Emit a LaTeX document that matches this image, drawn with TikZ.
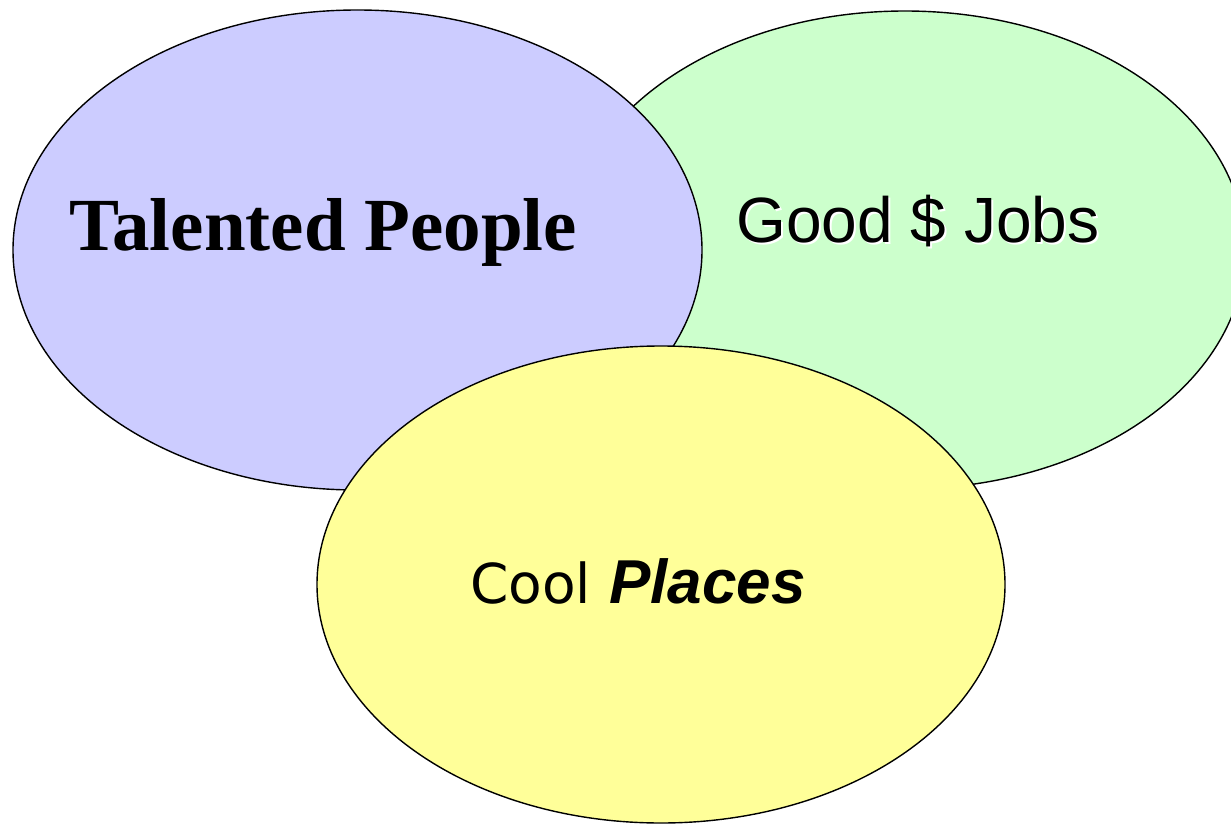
\documentclass[tikz,border=0pt]{standalone}
\usepackage{fontspec}
\setmainfont{Liberation Serif}
\newfontfamily\arialfont{Liberation Sans}
\newfontfamily\casualfont{DejaVu Sans}
\usetikzlibrary{shapes.geometric}
\definecolor{talentblue}{HTML}{CCCCFF}
\definecolor{jobgreen}{HTML}{CCFFCC}
\definecolor{placeyellow}{HTML}{FFFF99}
\tikzset{
  circle set/.style={draw=black, line width=1.4pt, ellipse, inner sep=0pt},
  label text/.style={anchor=base, inner sep=0pt, text=black},
}
\begin{document}
\begin{tikzpicture}[x=1pt, y=-1pt]
  \useasboundingbox (0,0) rectangle (1231,824);
  % the three overlapping sets, back to front
  \node[circle set, fill=jobgreen, minimum width=680pt, minimum height=478pt] (jobs) at (905,250) {};
  \node[circle set, fill=talentblue, minimum width=689pt, minimum height=480pt] (people) at (357.5,250) {};
  \node[circle set, fill=placeyellow, minimum width=688pt, minimum height=477pt] (places) at (661,584.5) {};
  % labels
  \node[label text, font=\fontsize{75}{80}\selectfont\bfseries] (tp) at (323,250) {Talented People};
  \node[label text, text=white, font=\arialfont\fontsize{64}{70}\selectfont] (gjshadow) at (920,244) {Good \$ Jobs};
  \node[label text, font=\arialfont\fontsize{64}{70}\selectfont] (gj) at (918,242) {Good \$ Jobs};
  \node[label text] (cp) at (638,603)
    {{\casualfont\fontsize{55}{60}\selectfont Cool}\hspace{18pt}{\arialfont\bfseries\itshape\fontsize{62}{66}\selectfont Places}};
\end{tikzpicture}
\end{document}
